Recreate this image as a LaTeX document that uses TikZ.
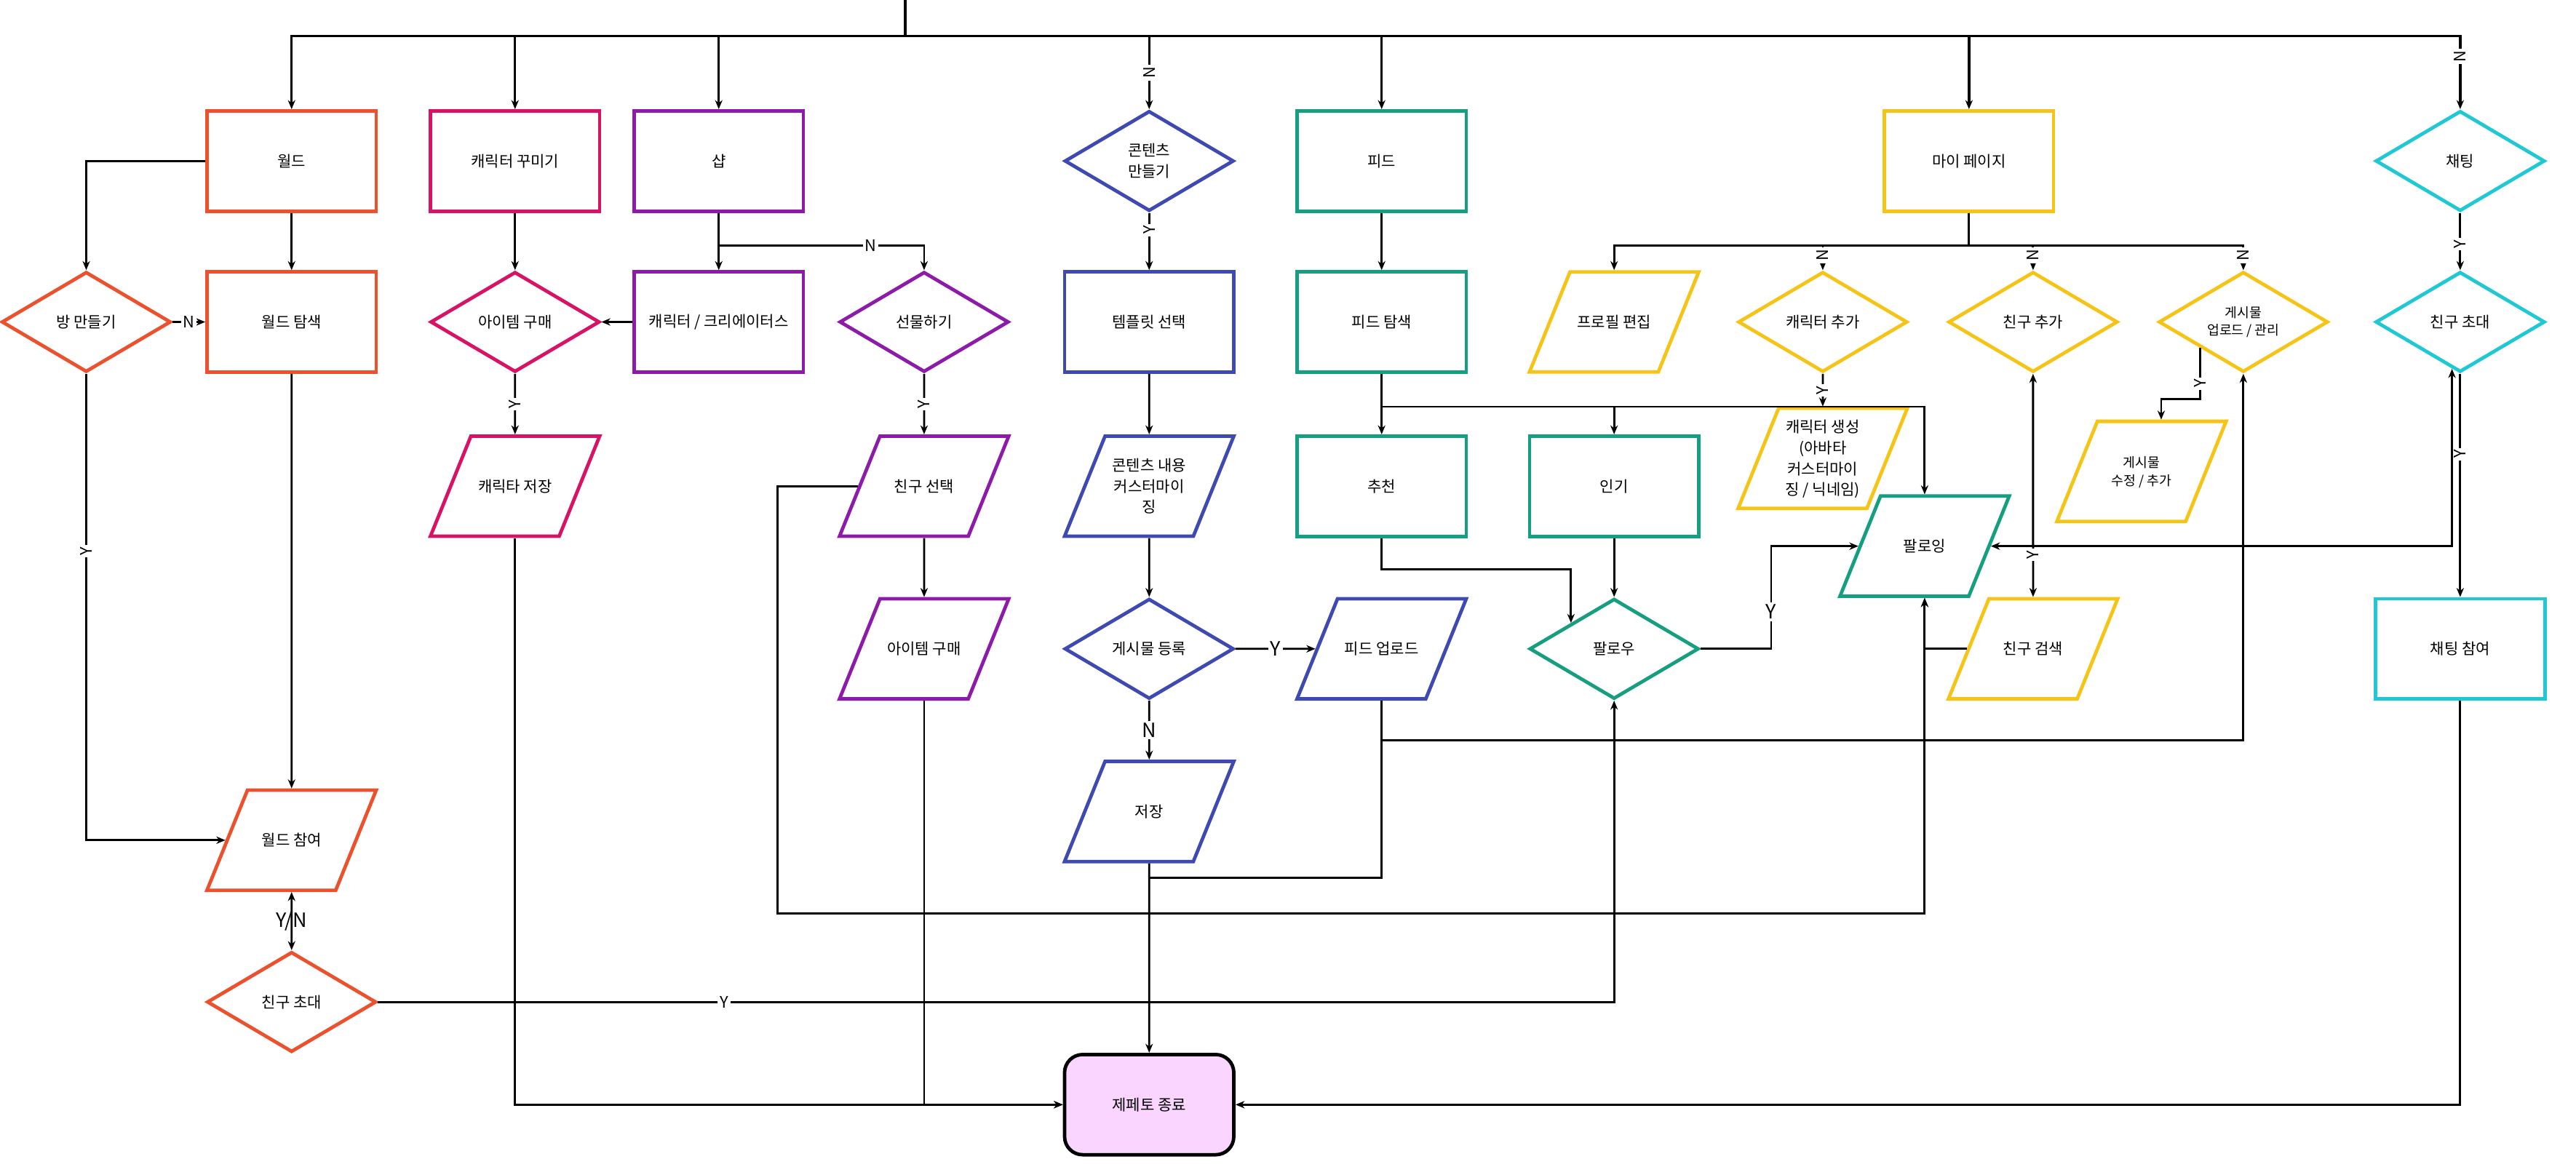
\documentclass[tikz,border=0pt]{standalone}
\usepackage{fontspec}
\setmainfont{Noto Sans CJK KR}
\usepackage{tikz}
\usetikzlibrary{shapes.geometric,arrows.meta,calc}
\definecolor{worldRed}{RGB}{236,80,44}
\definecolor{decoPink}{RGB}{216,18,100}
\definecolor{shopPurple}{RGB}{142,26,170}
\definecolor{contentBlue}{RGB}{62,74,178}
\definecolor{feedTeal}{RGB}{22,158,128}
\definecolor{myYellow}{RGB}{246,196,22}
\definecolor{chatCyan}{RGB}{30,200,212}
\definecolor{endPink}{RGB}{249,213,255}

\begin{document}
\begin{tikzpicture}[x=0.2mm, y=-0.2mm, line width=0.7pt,
    >={Stealth[length=1.1mm,width=0.9mm]},
    box/.style={draw=#1, line width=1.2pt, minimum width=20.6mm,
      minimum height=12.2mm, inner sep=0pt, align=center,
      font=\fontsize{5.3}{7.2}\selectfont},
    dec/.style={box=#1, diamond, aspect=1.69},
    % parallelogram: height comes from the text box, so the slant stays 68 deg
    para/.style={box=#1, minimum height=0pt, trapezium, trapezium left angle=68,
      trapezium right angle=112, trapezium stretches body,
      text height=19.35pt, text depth=15.35pt},
    threelines/.style={text height=26.55pt, text depth=8.15pt},
    fourlines/.style={text height=30.15pt, text depth=4.55pt},
    term/.style={box=black, rounded corners=2.2mm, fill=endPink},
    tinytext/.style={font=\fontsize{4.6}{6.2}\selectfont},
    twosmall/.style={tinytext, text height=22.15pt, text depth=12.55pt},
    lbl/.style={fill=white, inner sep=0.7pt, font=\fontsize{5.5}{5.5}\selectfont},
    rlbl/.style={lbl, rotate=90},
    blbl/.style={lbl, font=\fontsize{6.8}{6.8}\selectfont}
  ]
  \useasboundingbox (0,0) rectangle (1568,715);

  % Menus
  \node[box=worldRed] (wld) at (177.5,98) {월드};
  \node[box=decoPink] (deco) at (313.5,98) {캐릭터 꾸미기};
  \node[box=shopPurple] (shop) at (437.5,98) {샵};
  \node[dec=contentBlue] (make) at (699.5,98) {콘텐츠\\만들기};
  \node[box=feedTeal] (feed) at (841,98) {피드};
  \node[box=myYellow] (mypage) at (1198.5,98) {마이 페이지};
  \node[dec=chatCyan] (chat) at (1497.5,98) {채팅};

  \node[dec=worldRed] (room) at (52.5,196) {방 만들기};
  \node[box=worldRed] (wexp) at (177.5,196) {월드 탐색};
  \node[dec=decoPink] (buy) at (313.5,196) {아이템 구매};
  \node[box=shopPurple] (creator) at (437.5,196) {캐릭터 / 크리에이터스};
  \node[dec=shopPurple] (gift) at (562.5,196) {선물하기};
  \node[box=contentBlue] (tmpl) at (699.5,196) {템플릿 선택};
  \node[box=feedTeal] (fexp) at (841,196) {피드 탐색};
  \node[para=myYellow] (profile) at (982.5,196) {프로필 편집};
  \node[dec=myYellow] (cadd) at (1109.5,196) {캐릭터 추가};
  \node[dec=myYellow] (fadd) at (1237.5,196) {친구 추가};
  \node[dec=myYellow, tinytext] (post) at (1365.5,196) {게시물\\업로드 / 관리};
  \node[dec=chatCyan] (cinv) at (1497.5,196) {친구 초대};

  \node[para=decoPink] (csave) at (313.5,296) {캐릭타 저장};
  \node[para=shopPurple] (fsel) at (562.5,296) {친구 선택};
  \node[para=contentBlue, threelines] (custom) at (699.5,296) {콘텐츠 내용\\커스터마이\\징};
  \node[box=feedTeal] (rec) at (841,296) {추천};
  \node[box=feedTeal] (pop) at (982.5,296) {인기};
  \node[para=myYellow, fourlines] (cgen) at (1109.5,279) {캐릭터 생성\\(아바타\\커스터마이\\징 / 닉네임)};
  \node[para=myYellow, twosmall] (pedit) at (1303.5,287) {게시물\\수정 / 추가};
  \node[para=feedTeal] (following) at (1171.5,332.5) {팔로잉};

  \node[para=shopPurple] (ibuy) at (562.5,395) {아이템 구매};
  \node[dec=contentBlue] (reg) at (699.5,395) {게시물 등록};
  \node[para=contentBlue] (upload) at (841,395) {피드 업로드};
  \node[dec=feedTeal] (follow) at (982.5,395) {팔로우};
  \node[para=myYellow] (fsearch) at (1237.5,395) {친구 검색};
  \node[box=chatCyan] (cjoin) at (1497.5,395) {채팅 참여};

  \node[para=worldRed] (wjoin) at (177.5,511.5) {월드 참여};
  \node[para=contentBlue] (save) at (699.5,494) {저장};
  \node[dec=worldRed] (winv) at (177.5,610) {친구 초대};
  \node[term] (endn) at (699.5,672.5) {제페토 종료};

  % Arrows
  \coordinate (entry) at (551,0);
  \draw[->, line width=0.85pt] (entry) -- ++(0,22) -| (wld.north);
  \draw[->, line width=0.85pt] (entry) -- ++(0,22) -| (deco.north);
  \draw[->, line width=0.85pt] (entry) -- ++(0,22) -| (shop.north);
  \draw[->, line width=0.85pt] (entry) -- ++(0,22) -| node[rlbl, pos=0.75]{N} (make.north);
  \draw[->, line width=0.85pt] (entry) -- ++(0,22) -| (feed.north);
  \draw[->, line width=0.85pt] (entry) -- ++(0,22) -| (mypage.north);
  \draw[->, line width=0.85pt] (entry) -- ++(0,22) -| node[rlbl, pos=0.64]{N} (chat.north);

  \draw[->] (wld.west) -| (room.north);
  \draw[->] (wld) -- (wexp);
  \draw[->] (room) -- node[lbl]{N} (wexp);
  \draw[->] (room.south) |- node[rlbl, pos=0.19]{Y} (wjoin.west);
  \draw[->] (wexp) -- (wjoin);
  \draw[<->] (wjoin) -- node[blbl, fill=none]{Y/N} (winv);
  \draw[->] (winv.east) -| node[lbl, pos=0.14]{Y} (follow.south);

  \draw[->] (deco) -- (buy);
  \draw[->] (buy) -- node[rlbl]{Y} (csave);
  \draw[->] (csave.south) |- (endn.west);

  \draw[->] (shop) -- (creator);
  \draw[->] (shop.south) -- ++(0,20) -| node[lbl, pos=0.37]{N} (gift.north);
  \draw[->] (creator) -- (buy);
  \draw[->] (gift) -- node[rlbl]{Y} (fsel);
  \draw[->] (fsel.west) -- ++(-49,0) |- ($(following.south)+(0,192)$) -- (following.south);
  \draw[->] (fsel) -- (ibuy);
  \draw[->] (ibuy.south) |- (endn.west);

  \draw[->] (make) -- node[rlbl, pos=0.3]{Y} (tmpl);
  \draw[->] (tmpl) -- (custom);
  \draw[->] (custom) -- (reg);
  \draw[->] (reg) -- node[blbl]{Y} (upload);
  \draw[->] (reg) -- node[blbl]{N} (save);
  \draw[->] (save) -- (endn);
  \draw (upload.south) |- ($(save.south)+(0,9)$);
  \draw[->] (upload.south) -- ++(0,24) -| (post.south);

  \draw[->] (feed) -- (fexp);
  \draw[->] (fexp) -- (rec);
  \draw[->] (fexp.south) -- ++(0,20) -| (pop.north);
  \draw[->] (fexp.south) -- ++(0,20) -| (following.north);
  \draw[->] (rec.south) -- ++(0,19) -| ($(follow.north)!0.5!(follow.west)$);
  \draw[->] (pop) -- (follow);
  \draw[->] (follow.east) -- ++(43,0) |- node[blbl, pos=0.18]{Y} (following.west);

  \draw[->] (mypage.south) -- ++(0,20) -| (profile.north);
  \draw[->] (mypage.south) -- ++(0,20) -| node[rlbl, pos=0.7]{N} (cadd.north);
  \draw[->] (mypage.south) -- ++(0,20) -| node[rlbl, pos=0.7]{N} (fadd.north);
  \draw[->] (mypage.south) -- ++(0,20) -| node[rlbl, pos=0.7]{N} (post.north);
  \draw[->] (cadd) -- node[rlbl]{Y} (cgen);
  \draw[<->] (fadd) -- node[rlbl, pos=0.81]{Y} (fsearch);
  \draw[->] (fsearch.west) -| (following.south);
  \draw[->] ($(post.south)!0.5!(post.west)$) -- node[rlbl, pos=0.7]{Y} ++(0,31)
    -| ($(pedit.north)+(12,0)$);

  \draw[->] (chat) -- node[rlbl, pos=0.55]{Y} (cinv);
  \draw[->] (cinv) -- node[rlbl, pos=0.36]{Y} (cjoin);
  \draw[<->] (following.east) -| ($(cinv.south)+(-5,-3)$);
  \draw[->] (cjoin.south) |- (endn.east);
\end{tikzpicture}
\end{document}
